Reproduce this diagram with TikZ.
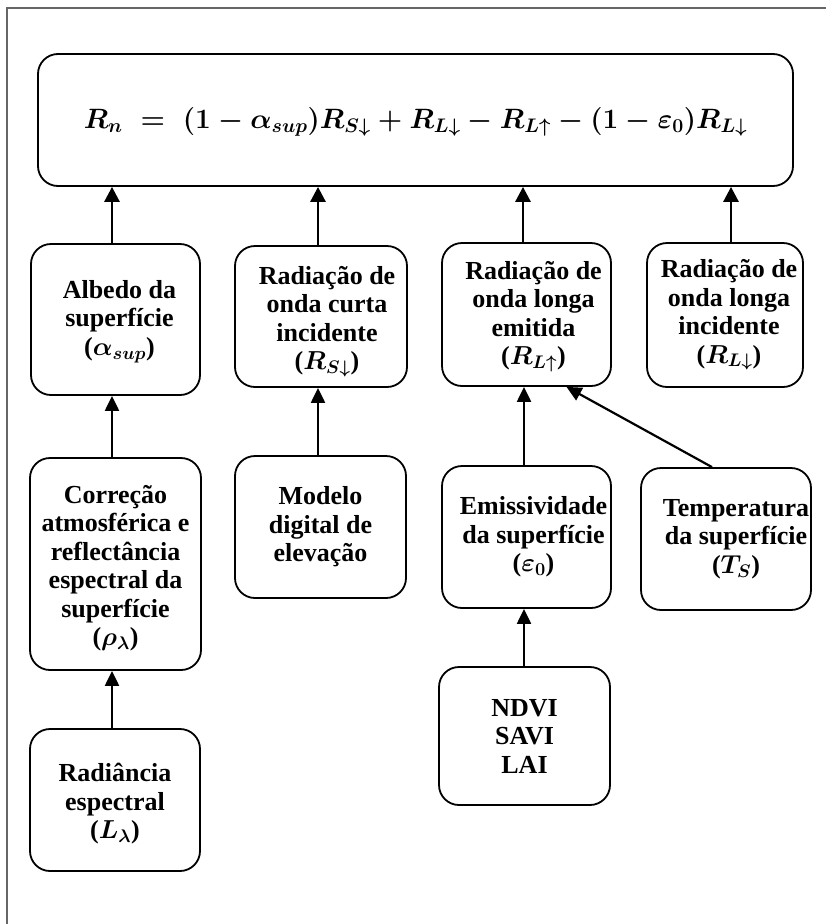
\RequirePackage{fix-cm}
\documentclass[tikz,border=0pt]{standalone}
\usepackage{fontspec}
\setmainfont{Liberation Serif}
\usetikzlibrary{arrows.meta}
\begin{document}
\begin{tikzpicture}[x=1pt,y=-1pt]
\tikzset{
  box/.style={draw, line width=1.8pt, rounded corners=20pt, inner sep=0pt},
  lbl/.style={font=\fontsize{26}{28.5}\selectfont\bfseries\boldmath, align=center, inner sep=0pt},
  arrtop/.style={line width=2.8pt, -{Triangle[width=15pt,length=15pt]}},
  arrlow/.style={line width=2.2pt, -{Triangle[width=14pt,length=15pt]}},
  frame/.style={draw=black!60, line width=1.2pt}
}
\useasboundingbox (0,0) rectangle (826,924);
\draw[frame] (7,924) -- (7,8) -- (826,8);

% formula box
\node[box, minimum width=755pt, minimum height=132pt] (F) at (415.5,120) {};
\node[font=\fontsize{28}{32}\selectfont\bfseries\boldmath, inner sep=0pt] (Ft) at ([yshift=-2pt]F.center)
  {$R_n \;=\; \bigl(1 - \alpha_{sup}\bigr)R_{S\downarrow} + R_{L\downarrow} - R_{L\uparrow} - (1-\varepsilon_0)R_{L\downarrow}$};

% row 1
\node[box, minimum width=169pt, minimum height=151pt] (B1) at (115.5,319.5) {};
\node[box, minimum width=172pt, minimum height=141pt] (B2) at (321,316.5) {};
\node[box, minimum width=169pt, minimum height=143pt] (B3) at (526.5,314.5) {};
\node[box, minimum width=156pt, minimum height=144pt] (B4) at (725,315) {};
\node[lbl] (B1t) at ([xshift=4pt,yshift=-2pt]B1.center) {Albedo da\\superfície\\($\alpha_{sup}$)};
\node[lbl] (B2t) at ([xshift=6pt,yshift=-5pt]B2.center) {Radiação de\\onda curta\\incidente\\($R_{S\downarrow}$)};
\node[lbl] (B3t) at ([xshift=7pt,yshift=-2pt]B3.center) {Radiação de\\onda longa\\emitida\\($R_{L\uparrow}$)};
\node[lbl] (B4t) at ([xshift=4pt]B4.center) {Radiação de\\onda longa\\incidente\\($R_{L\downarrow}$)};

% row 2
\node[box, minimum width=171pt, minimum height=212pt] (C) at (115.5,564) {};
\node[box, minimum width=171pt, minimum height=142pt] (M) at (320.5,527) {};
\node[box, minimum width=169pt, minimum height=142pt] (E) at (526.5,537) {};
\node[box, minimum width=170pt, minimum height=142pt] (T) at (726,539) {};
\node[lbl] (Ct) at ([yshift=-4pt]C.center) {Correção\\atmosférica e\\reflectância\\espectral da\\superfície\\($\rho_\lambda$)};
\node[lbl] (Mt) at (M.center) {Modelo\\digital de\\elevação};
\node[lbl] (Et) at ([xshift=7pt]E.center) {Emissividade\\da superfície\\($\varepsilon_0$)};
\node[lbl] (Tt) at ([xshift=10pt]T.center) {Temperatura\\da superfície\\($T_S$)};

% row 3
\node[box, minimum width=171pt, minimum height=138pt] (N) at (524.5,736) {};
\node[box, minimum width=170pt, minimum height=142pt] (L) at (115,800) {};
\node[lbl] (Nt) at (N.center) {NDVI\\SAVI\\LAI};
\node[lbl] (Lt) at ([yshift=-4pt]L.center) {Radiância\\espectral\\($L_\lambda$)};

% connectors to formula
\draw[arrtop] ([xshift=-3.5pt]B1.north) -- ([xshift=-3.5pt]B1.north |- F.south);
\draw[arrtop] ([xshift=-3pt]B2.north) -- ([xshift=-3pt]B2.north |- F.south);
\draw[arrtop] ([xshift=-3.5pt]B3.north) -- ([xshift=-3.5pt]B3.north |- F.south);
\draw[arrtop] ([xshift=6pt]B4.north) -- ([xshift=6pt]B4.north |- F.south);

% lower connectors
\draw[arrlow] ([xshift=-3.5pt]C.north) -- ([xshift=-3.5pt]C.north |- B1.south);
\draw[arrlow] ([xshift=-3pt]L.north) -- ([xshift=-3pt]L.north |- C.south);
\draw[arrlow] ([xshift=-2.5pt]M.north) -- ([xshift=-2.5pt]M.north |- B2.south);
\draw[arrlow] ([xshift=-2.5pt]E.north) -- ([xshift=-2.5pt]E.north |- B3.south);
\draw[arrlow] ([xshift=-0.5pt]N.north) -- ([xshift=-0.5pt]N.north |- E.south);
\draw[arrlow] ([xshift=-14pt]T.north) -- ([xshift=40pt]B3.south);
\end{tikzpicture}
\end{document}
